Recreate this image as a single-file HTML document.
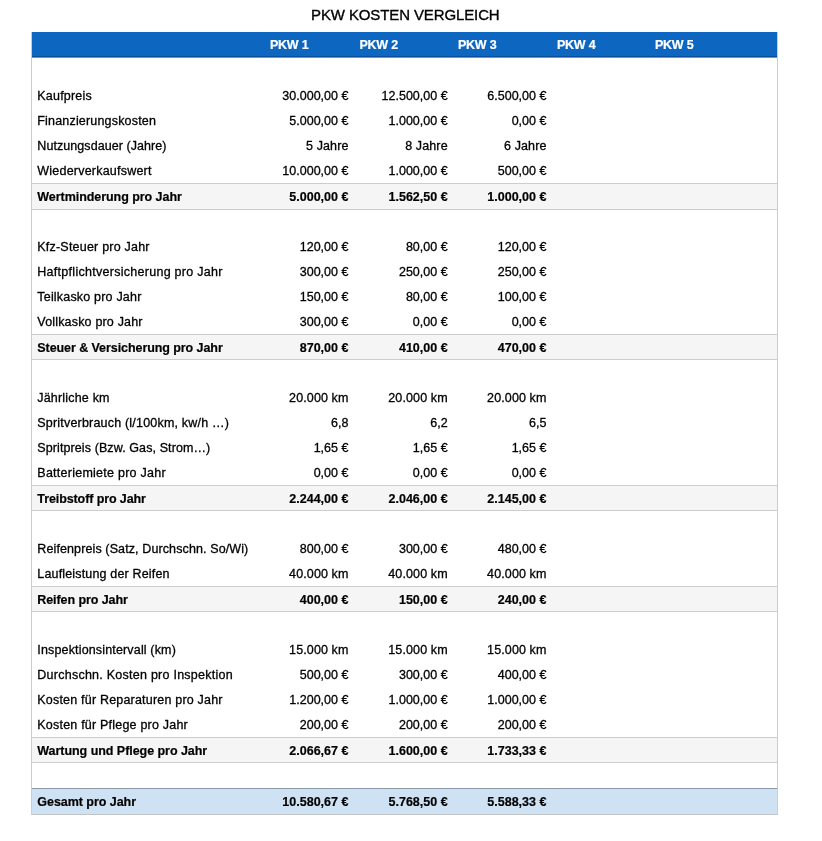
<!DOCTYPE html>
<html><head><meta charset="utf-8"><title>PKW Kosten Vergleich</title>
<style>
html,body{margin:0;padding:0;background:#fff;}
body{width:822px;height:841px;position:relative;overflow:hidden;font-family:"Liberation Sans",sans-serif;color:#000;}
.a{position:absolute;white-space:nowrap;}
.t{font-size:12.5px;line-height:16px;height:16px;will-change:transform;}
.t{-webkit-text-stroke:0.3px;}
.b{font-weight:bold;-webkit-text-stroke:0.2px;}
.r{text-align:right;}
</style></head><body>

<div class="a" style="left:311px;top:5.70px;font-size:15px;line-height:18px;letter-spacing:-0.114px;will-change:transform;-webkit-text-stroke:0.35px;">PKW KOSTEN VERGLEICH</div>
<div class="a" style="left:31px;top:32px;width:1px;height:783px;background:#cdcdcd;"></div>
<div class="a" style="left:777px;top:32px;width:1px;height:783px;background:#cdcdcd;"></div>
<div class="a" style="left:32px;top:32px;width:745px;height:26px;background:linear-gradient(#0d66c0 0,#0d66c0 24px,#0a4f9c 24px,#0a4f9c 25px,#6d97c6 25px,#6d97c6 26px);"></div>
<div class="a t b" style="left:270px;top:36px;transform:translate(0.00px,0.90px);color:#fff;letter-spacing:-0.249px;">PKW 1</div>
<div class="a t b" style="left:359px;top:36px;transform:translate(0.50px,0.90px);color:#fff;letter-spacing:-0.249px;">PKW 2</div>
<div class="a t b" style="left:458px;top:36px;transform:translate(0.00px,0.90px);color:#fff;letter-spacing:-0.249px;">PKW 3</div>
<div class="a t b" style="left:557px;top:36px;transform:translate(0.00px,0.90px);color:#fff;letter-spacing:-0.249px;">PKW 4</div>
<div class="a t b" style="left:655px;top:36px;transform:translate(0.00px,0.90px);color:#fff;letter-spacing:-0.249px;">PKW 5</div>
<div class="a t" style="left:37px;top:88px;transform:translate(0.30px,0.00px);letter-spacing:0.199px;">Kaufpreis</div>
<div class="a t r" style="left:228px;top:88px;transform:translate(0.40px,0.00px);width:120px;">30.000,00 €</div>
<div class="a t r" style="left:327px;top:88px;transform:translate(0.60px,0.00px);width:120px;">12.500,00 €</div>
<div class="a t r" style="left:426px;top:88px;transform:translate(0.40px,0.00px);width:120px;">6.500,00 €</div>
<div class="a t" style="left:37px;top:113px;transform:translate(0.30px,0.00px);letter-spacing:0.181px;">Finanzierungskosten</div>
<div class="a t r" style="left:228px;top:113px;transform:translate(0.40px,0.00px);width:120px;">5.000,00 €</div>
<div class="a t r" style="left:327px;top:113px;transform:translate(0.60px,0.00px);width:120px;">1.000,00 €</div>
<div class="a t r" style="left:426px;top:113px;transform:translate(0.40px,0.00px);width:120px;">0,00 €</div>
<div class="a t" style="left:37px;top:138px;transform:translate(0.30px,0.00px);letter-spacing:0.069px;">Nutzungsdauer (Jahre)</div>
<div class="a t r" style="left:228px;top:138px;transform:translate(0.52px,0.00px);width:120px;letter-spacing:0.12px;">5 Jahre</div>
<div class="a t r" style="left:327px;top:138px;transform:translate(0.72px,0.00px);width:120px;letter-spacing:0.12px;">8 Jahre</div>
<div class="a t r" style="left:426px;top:138px;transform:translate(0.52px,0.00px);width:120px;letter-spacing:0.12px;">6 Jahre</div>
<div class="a t" style="left:37px;top:163px;transform:translate(0.30px,0.00px);letter-spacing:0.219px;">Wiederverkaufswert</div>
<div class="a t r" style="left:228px;top:163px;transform:translate(0.40px,0.00px);width:120px;">10.000,00 €</div>
<div class="a t r" style="left:327px;top:163px;transform:translate(0.60px,0.00px);width:120px;">1.000,00 €</div>
<div class="a t r" style="left:426px;top:163px;transform:translate(0.40px,0.00px);width:120px;">500,00 €</div>
<div class="a" style="left:32px;top:183px;width:745px;height:27px;background:#f5f5f5;border-top:1px solid #cdcdcd;border-bottom:1px solid #cdcdcd;box-sizing:border-box;"></div>
<div class="a t b" style="left:37px;top:189px;transform:translate(0.30px,0.00px);letter-spacing:-0.051px;">Wertminderung pro Jahr</div>
<div class="a t b r" style="left:228px;top:189px;transform:translate(0.40px,0.00px);width:120px;">5.000,00 €</div>
<div class="a t b r" style="left:327px;top:189px;transform:translate(0.60px,0.00px);width:120px;">1.562,50 €</div>
<div class="a t b r" style="left:426px;top:189px;transform:translate(0.40px,0.00px);width:120px;">1.000,00 €</div>
<div class="a t" style="left:37px;top:239px;transform:translate(0.30px,0.00px);letter-spacing:0.211px;">Kfz-Steuer pro Jahr</div>
<div class="a t r" style="left:228px;top:239px;transform:translate(0.40px,0.00px);width:120px;">120,00 €</div>
<div class="a t r" style="left:327px;top:239px;transform:translate(0.60px,0.00px);width:120px;">80,00 €</div>
<div class="a t r" style="left:426px;top:239px;transform:translate(0.40px,0.00px);width:120px;">120,00 €</div>
<div class="a t" style="left:37px;top:264px;transform:translate(0.30px,0.00px);letter-spacing:0.279px;">Haftpflichtversicherung pro Jahr</div>
<div class="a t r" style="left:228px;top:264px;transform:translate(0.40px,0.00px);width:120px;">300,00 €</div>
<div class="a t r" style="left:327px;top:264px;transform:translate(0.60px,0.00px);width:120px;">250,00 €</div>
<div class="a t r" style="left:426px;top:264px;transform:translate(0.40px,0.00px);width:120px;">250,00 €</div>
<div class="a t" style="left:37px;top:289px;transform:translate(0.30px,0.00px);letter-spacing:0.192px;">Teilkasko pro Jahr</div>
<div class="a t r" style="left:228px;top:289px;transform:translate(0.40px,0.00px);width:120px;">150,00 €</div>
<div class="a t r" style="left:327px;top:289px;transform:translate(0.60px,0.00px);width:120px;">80,00 €</div>
<div class="a t r" style="left:426px;top:289px;transform:translate(0.40px,0.00px);width:120px;">100,00 €</div>
<div class="a t" style="left:37px;top:314px;transform:translate(0.30px,0.00px);letter-spacing:0.181px;">Vollkasko pro Jahr</div>
<div class="a t r" style="left:228px;top:314px;transform:translate(0.40px,0.00px);width:120px;">300,00 €</div>
<div class="a t r" style="left:327px;top:314px;transform:translate(0.60px,0.00px);width:120px;">0,00 €</div>
<div class="a t r" style="left:426px;top:314px;transform:translate(0.40px,0.00px);width:120px;">0,00 €</div>
<div class="a" style="left:32px;top:334px;width:745px;height:26px;background:#f5f5f5;border-top:1px solid #cdcdcd;border-bottom:1px solid #cdcdcd;box-sizing:border-box;"></div>
<div class="a t b" style="left:37px;top:340px;transform:translate(0.30px,0.00px);letter-spacing:-0.072px;">Steuer &amp; Versicherung pro Jahr</div>
<div class="a t b r" style="left:228px;top:340px;transform:translate(0.40px,0.00px);width:120px;">870,00 €</div>
<div class="a t b r" style="left:327px;top:340px;transform:translate(0.60px,0.00px);width:120px;">410,00 €</div>
<div class="a t b r" style="left:426px;top:340px;transform:translate(0.40px,0.00px);width:120px;">470,00 €</div>
<div class="a t" style="left:37px;top:390px;transform:translate(0.30px,0.00px);letter-spacing:0.186px;">Jährliche km</div>
<div class="a t r" style="left:228px;top:390px;transform:translate(0.52px,0.00px);width:120px;letter-spacing:0.12px;">20.000 km</div>
<div class="a t r" style="left:327px;top:390px;transform:translate(0.72px,0.00px);width:120px;letter-spacing:0.12px;">20.000 km</div>
<div class="a t r" style="left:426px;top:390px;transform:translate(0.52px,0.00px);width:120px;letter-spacing:0.12px;">20.000 km</div>
<div class="a t" style="left:37px;top:415px;transform:translate(0.30px,0.00px);letter-spacing:0.197px;">Spritverbrauch (l/100km, kw/h …)</div>
<div class="a t r" style="left:228px;top:415px;transform:translate(0.40px,0.00px);width:120px;">6,8</div>
<div class="a t r" style="left:327px;top:415px;transform:translate(0.60px,0.00px);width:120px;">6,2</div>
<div class="a t r" style="left:426px;top:415px;transform:translate(0.40px,0.00px);width:120px;">6,5</div>
<div class="a t" style="left:37px;top:440px;transform:translate(0.30px,0.00px);letter-spacing:0.100px;">Spritpreis (Bzw. Gas, Strom…)</div>
<div class="a t r" style="left:228px;top:440px;transform:translate(0.40px,0.00px);width:120px;">1,65 €</div>
<div class="a t r" style="left:327px;top:440px;transform:translate(0.60px,0.00px);width:120px;">1,65 €</div>
<div class="a t r" style="left:426px;top:440px;transform:translate(0.40px,0.00px);width:120px;">1,65 €</div>
<div class="a t" style="left:37px;top:465px;transform:translate(0.30px,0.00px);letter-spacing:0.251px;">Batteriemiete pro Jahr</div>
<div class="a t r" style="left:228px;top:465px;transform:translate(0.40px,0.00px);width:120px;">0,00 €</div>
<div class="a t r" style="left:327px;top:465px;transform:translate(0.60px,0.00px);width:120px;">0,00 €</div>
<div class="a t r" style="left:426px;top:465px;transform:translate(0.40px,0.00px);width:120px;">0,00 €</div>
<div class="a" style="left:32px;top:485px;width:745px;height:26px;background:#f5f5f5;border-top:1px solid #cdcdcd;border-bottom:1px solid #cdcdcd;box-sizing:border-box;"></div>
<div class="a t b" style="left:37px;top:491px;transform:translate(0.30px,0.00px);letter-spacing:-0.097px;">Treibstoff pro Jahr</div>
<div class="a t b r" style="left:228px;top:491px;transform:translate(0.40px,0.00px);width:120px;">2.244,00 €</div>
<div class="a t b r" style="left:327px;top:491px;transform:translate(0.60px,0.00px);width:120px;">2.046,00 €</div>
<div class="a t b r" style="left:426px;top:491px;transform:translate(0.40px,0.00px);width:120px;">2.145,00 €</div>
<div class="a t" style="left:37px;top:541px;transform:translate(0.30px,0.00px);letter-spacing:0.113px;">Reifenpreis (Satz, Durchschn. So/Wi)</div>
<div class="a t r" style="left:228px;top:541px;transform:translate(0.40px,0.00px);width:120px;">800,00 €</div>
<div class="a t r" style="left:327px;top:541px;transform:translate(0.60px,0.00px);width:120px;">300,00 €</div>
<div class="a t r" style="left:426px;top:541px;transform:translate(0.40px,0.00px);width:120px;">480,00 €</div>
<div class="a t" style="left:37px;top:566px;transform:translate(0.30px,0.00px);letter-spacing:0.163px;">Laufleistung der Reifen</div>
<div class="a t r" style="left:228px;top:566px;transform:translate(0.52px,0.00px);width:120px;letter-spacing:0.12px;">40.000 km</div>
<div class="a t r" style="left:327px;top:566px;transform:translate(0.72px,0.00px);width:120px;letter-spacing:0.12px;">40.000 km</div>
<div class="a t r" style="left:426px;top:566px;transform:translate(0.52px,0.00px);width:120px;letter-spacing:0.12px;">40.000 km</div>
<div class="a" style="left:32px;top:586px;width:745px;height:26px;background:#f5f5f5;border-top:1px solid #cdcdcd;border-bottom:1px solid #cdcdcd;box-sizing:border-box;"></div>
<div class="a t b" style="left:37px;top:592px;transform:translate(0.30px,0.00px);letter-spacing:-0.079px;">Reifen pro Jahr</div>
<div class="a t b r" style="left:228px;top:592px;transform:translate(0.40px,0.00px);width:120px;">400,00 €</div>
<div class="a t b r" style="left:327px;top:592px;transform:translate(0.60px,0.00px);width:120px;">150,00 €</div>
<div class="a t b r" style="left:426px;top:592px;transform:translate(0.40px,0.00px);width:120px;">240,00 €</div>
<div class="a t" style="left:37px;top:642px;transform:translate(0.30px,0.00px);letter-spacing:0.157px;">Inspektionsintervall (km)</div>
<div class="a t r" style="left:228px;top:642px;transform:translate(0.52px,0.00px);width:120px;letter-spacing:0.12px;">15.000 km</div>
<div class="a t r" style="left:327px;top:642px;transform:translate(0.72px,0.00px);width:120px;letter-spacing:0.12px;">15.000 km</div>
<div class="a t r" style="left:426px;top:642px;transform:translate(0.52px,0.00px);width:120px;letter-spacing:0.12px;">15.000 km</div>
<div class="a t" style="left:37px;top:667px;transform:translate(0.30px,0.00px);letter-spacing:0.250px;">Durchschn. Kosten pro Inspektion</div>
<div class="a t r" style="left:228px;top:667px;transform:translate(0.40px,0.00px);width:120px;">500,00 €</div>
<div class="a t r" style="left:327px;top:667px;transform:translate(0.60px,0.00px);width:120px;">300,00 €</div>
<div class="a t r" style="left:426px;top:667px;transform:translate(0.40px,0.00px);width:120px;">400,00 €</div>
<div class="a t" style="left:37px;top:692px;transform:translate(0.30px,0.00px);letter-spacing:0.197px;">Kosten für Reparaturen pro Jahr</div>
<div class="a t r" style="left:228px;top:692px;transform:translate(0.40px,0.00px);width:120px;">1.200,00 €</div>
<div class="a t r" style="left:327px;top:692px;transform:translate(0.60px,0.00px);width:120px;">1.000,00 €</div>
<div class="a t r" style="left:426px;top:692px;transform:translate(0.40px,0.00px);width:120px;">1.000,00 €</div>
<div class="a t" style="left:37px;top:717px;transform:translate(0.30px,0.00px);letter-spacing:0.210px;">Kosten für Pflege pro Jahr</div>
<div class="a t r" style="left:228px;top:717px;transform:translate(0.40px,0.00px);width:120px;">200,00 €</div>
<div class="a t r" style="left:327px;top:717px;transform:translate(0.60px,0.00px);width:120px;">200,00 €</div>
<div class="a t r" style="left:426px;top:717px;transform:translate(0.40px,0.00px);width:120px;">200,00 €</div>
<div class="a" style="left:32px;top:737px;width:745px;height:26px;background:#f5f5f5;border-top:1px solid #cdcdcd;border-bottom:1px solid #cdcdcd;box-sizing:border-box;"></div>
<div class="a t b" style="left:37px;top:743px;transform:translate(0.30px,0.00px);letter-spacing:-0.044px;">Wartung und Pflege pro Jahr</div>
<div class="a t b r" style="left:228px;top:743px;transform:translate(0.40px,0.00px);width:120px;">2.066,67 €</div>
<div class="a t b r" style="left:327px;top:743px;transform:translate(0.60px,0.00px);width:120px;">1.600,00 €</div>
<div class="a t b r" style="left:426px;top:743px;transform:translate(0.40px,0.00px);width:120px;">1.733,33 €</div>
<div class="a" style="left:32px;top:788px;width:745px;height:27px;background:#cfe2f3;border-top:1px solid #8a9aa8;border-bottom:1px solid #c0c4c8;box-sizing:border-box;"></div>
<div class="a t b" style="left:37px;top:794px;transform:translate(0.30px,0.00px);letter-spacing:-0.043px;">Gesamt pro Jahr</div>
<div class="a t b r" style="left:228px;top:794px;transform:translate(0.40px,0.00px);width:120px;">10.580,67 €</div>
<div class="a t b r" style="left:327px;top:794px;transform:translate(0.60px,0.00px);width:120px;">5.768,50 €</div>
<div class="a t b r" style="left:426px;top:794px;transform:translate(0.40px,0.00px);width:120px;">5.588,33 €</div>
</body></html>
